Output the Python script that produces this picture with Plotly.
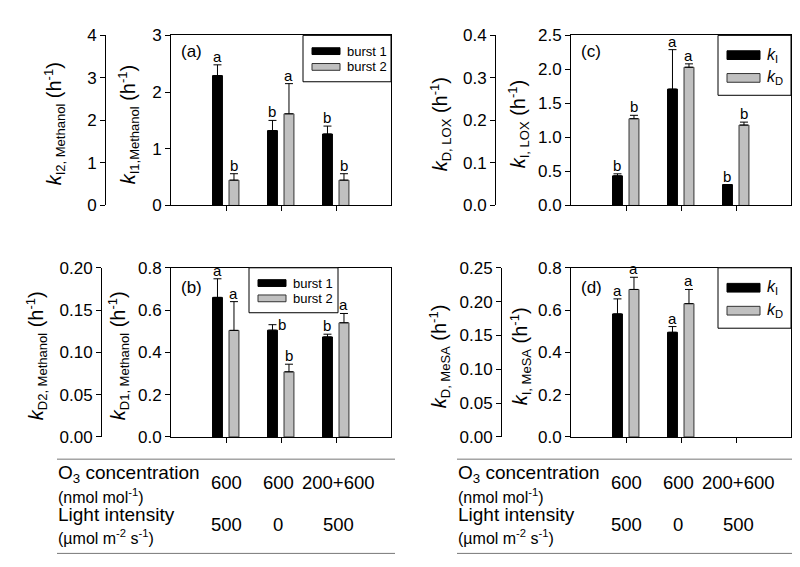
import plotly.graph_objects as go

W, H = 800, 567

# === data ===
cats = [1, 2, 3]
o3_conc = ["600", "600", "200+600"]
light_int = ["500", "0", "500"]

# (a) k_I methanol: burst 1 on k_I1 axis (0-3), burst 2 on k_I2 axis (0-4)
a_burst1 = [2.29, 1.32, 1.26]
a_burst1_err = [0.19, 0.18, 0.14]
a_burst2 = [0.595, 2.155, 0.595]
a_burst2_err = [0.152, 0.71, 0.152]
a_let1 = ["a", "b", "b"]
a_let2 = ["b", "a", "b"]

# (b) k_D methanol: burst 1 on k_D1 axis (0-0.8), burst 2 on k_D2 axis (0-0.2)
b_burst1 = [0.66, 0.505, 0.473]
b_burst1_err = [0.088, 0.026, 0.013]
b_burst2 = [0.126, 0.077, 0.135]
b_burst2_err = [0.034, 0.009, 0.011]
b_let1 = ["a", "b", "b"]
b_let2 = ["a", "b", "a"]

# (c) LOX: k_I on inner axis (0-2.5), k_D on outer axis (0-0.4)
c_kI = [0.435, 1.71, 0.307]
c_kI_err = [0.03, 0.58, 0.0]
c_kD = [0.204, 0.325, 0.189]
c_kD_err = [0.008, 0.008, 0.007]
c_let1 = ["b", "a", "b"]
c_let2 = ["b", "a", "b"]

# (d) MeSA: k_I inner (0-0.8), k_D outer (0-0.25); nothing for 200+600
d_kI = [0.582, 0.495, None]
d_kI_err = [0.071, 0.027, 0]
d_kD = [0.218, 0.197, None]
d_kD_err = [0.018, 0.021, 0]
d_let1 = ["a", "a", ""]
d_let2 = ["a", "a", ""]

FONT = "Liberation Sans, Arial, sans-serif"
GRAY = "#c0c0c0"


def px(x):
    return x / W


def py(y):
    return 1 - y / H


def note(x, y, text, size, xref="paper", yref="paper", xanchor="center", yanchor="middle", **kw):
    d = dict(x=x, y=y, xref=xref, yref=yref, text=text, showarrow=False,
             xanchor=xanchor, yanchor=yanchor, font=dict(size=size))
    d.update(kw)
    return d


def ytitle(sub):
    # k with a fairly large subscript, then (h^-1)
    return ("<i>k</i><sub><span style='font-size:13px'>" + sub + "</span></sub>"
            " (h<sup><span style='font-size:13px'>-1</span></sup>)")


panels = [
    dict(tag="(a)", box=(163, 383, 19, 195), outer=97,
         inner=(3, 1, "d"), outer_ax=(4, 1, "d"),
         s1=(a_burst1, a_burst1_err, a_let1), s2=(a_burst2, a_burst2_err, a_let2),
         t_in=ytitle("I1,Methanol"), t_in_x=121,
         t_out=ytitle("I2, Methanol"), t_out_x=47,
         names=("burst 1", "burst 2"), leg=(295, 383, 19, 67), leg_font=13),
    dict(tag="(b)", box=(163, 383, 259.5, 434.5), outer=93,
         inner=(0.8, 0.2, ".1f"), outer_ax=(0.2, 0.05, ".2f"),
         s1=(b_burst1, b_burst1_err, b_let1), s2=(b_burst2, b_burst2_err, b_let2),
         t_in=ytitle("D1, Methanol"), t_in_x=111,
         t_out=ytitle("D2, Methanol"), t_out_x=29,
         names=("burst 1", "burst 2"), leg=(241, 330, 259.5, 306), leg_font=13),
    dict(tag="(c)", box=(563, 783, 19, 195), outer=487,
         inner=(2.5, 0.5, ".1f"), outer_ax=(0.4, 0.1, ".1f"),
         s1=(c_kI, c_kI_err, c_let1), s2=(c_kD, c_kD_err, c_let2),
         t_in=ytitle("I, LOX"), t_in_x=511,
         t_out=ytitle("D, LOX"), t_out_x=433,
         names=("<i>k</i><sub>I</sub>", "<i>k</i><sub>D</sub>"), leg=(710, 783, 19, 81), leg_font=16),
    dict(tag="(d)", box=(563, 783, 259.5, 434.5), outer=493,
         inner=(0.8, 0.2, ".1f"), outer_ax=(0.25, 0.05, ".2f"),
         s1=(d_kI, d_kI_err, d_let1), s2=(d_kD, d_kD_err, d_let2),
         t_in=ytitle("I, MeSA"), t_in_x=513,
         t_out=ytitle("D, MeSA"), t_out_x=432,
         names=("<i>k</i><sub>I</sub>", "<i>k</i><sub>D</sub>"), leg=(710, 783, 259.5, 322), leg_font=16),
]

# letters that sit beside the cap instead of above it: (panel, series, index) -> xshift
side_letters = {(1, 0, 1): 10}

BAR_W = 0.18
OFFS = (-0.245, 0.055)

fig = go.Figure()
annotations = []
shapes = []
axes = {}

for i, p in enumerate(panels):
    xr = "x" if i == 0 else f"x{i + 1}"
    yin = "y" if i == 0 else f"y{2 * i + 1}"
    yout = f"y{2 * i + 2}"
    x0, x1, y0, y1 = p["box"]

    axes["xaxis" if i == 0 else f"xaxis{i + 1}"] = dict(
        domain=[px(x0), px(x1)], anchor=yin, range=[0, 4], tickvals=cats,
        showticklabels=False, ticks="outside", ticklen=5, tickcolor="black",
        showline=True, mirror=True, linecolor="black", linewidth=1,
        showgrid=False, zeroline=False)

    rng, dt, fmt = p["inner"]
    n = int(round(rng / dt))
    axes["yaxis" if i == 0 else f"yaxis{2 * i + 1}"] = dict(
        domain=[py(y1), py(y0)], anchor=xr, range=[0, rng],
        tickvals=[k * dt for k in range(n + 1)], tickformat=fmt,
        ticks="outside", ticklen=5, tickcolor="black",
        showline=True, mirror=True, linecolor="black", linewidth=1,
        showgrid=False, zeroline=False, tickfont=dict(size=17))

    rng, dt, fmt = p["outer_ax"]
    n = int(round(rng / dt))
    axes[f"yaxis{2 * i + 2}"] = dict(
        overlaying=yin, anchor="free", position=px(p["outer"]), side="left",
        range=[0, rng], tickvals=[k * dt for k in range(n + 1)], tickformat=fmt,
        ticks="outside", ticklen=5, tickcolor="black",
        showline=True, linecolor="black", linewidth=1,
        showgrid=False, zeroline=False, tickfont=dict(size=17))

    for s, (vals, errs, lets) in enumerate((p["s1"], p["s2"])):
        yref = yin if s == 0 else yout
        fig.add_trace(go.Bar(
            x=cats, y=vals, xaxis=xr, yaxis=yref,
            offset=OFFS[s], width=BAR_W,
            marker=dict(color="black" if s == 0 else GRAY,
                        line=dict(color="black" if s == 0 else "#333333", width=1)),
            error_y=dict(type="data", array=errs, arrayminus=[0] * len(errs),
                         symmetric=False, color="black", thickness=1, width=4),
            showlegend=False))
        for k, (v, e, lt) in enumerate(zip(vals, errs, lets)):
            if v is None or not lt:
                continue
            xs = side_letters.get((i, s, k))
            annotations.append(note(cats[k] + OFFS[s] + BAR_W / 2, v + e, lt, 15,
                                    xref=xr, yref=yref,
                                    yanchor="middle" if xs else "bottom",
                                    xshift=xs or 0, yshift=0 if xs else -2))

    # panel tag
    annotations.append(note(px(x0 + 8), py(y0 + (17 if i % 2 == 0 else 20)), p["tag"], 17,
                            xanchor="left"))
    # y titles
    yc = (y0 + y1) / 2 + 4
    for tx, tt in ((p["t_in_x"], p["t_in"]), (p["t_out_x"], p["t_out"])):
        annotations.append(note(px(tx), py(yc), tt, 20, textangle=-90))

    # legend box
    lx0, lx1, ly0, ly1 = p["leg"]
    shapes.append(dict(type="rect", xref="paper", yref="paper",
                       x0=px(lx0), x1=px(lx1), y0=py(ly1), y1=py(ly0),
                       line=dict(color="black", width=1), fillcolor="white", layer="above"))
    lh = ly1 - ly0
    rows = (ly0 + lh * 0.34, ly0 + lh * 0.68) if i < 2 else (ly0 + lh * 0.33, ly0 + lh * 0.71)
    sw = 28 if i < 2 else 33
    hh = 3.5 if i < 2 else 4.5
    for r, (yy, col, name) in enumerate(zip(rows, ("black", GRAY), p["names"])):
        shapes.append(dict(type="rect", xref="paper", yref="paper",
                           x0=px(lx0 + 9), x1=px(lx0 + 9 + sw),
                           y0=py(yy + hh), y1=py(yy - hh),
                           line=dict(color="black" if r == 0 else "#333333", width=1),
                           fillcolor=col, layer="above"))
        annotations.append(note(px(lx0 + 9 + sw + 5), py(yy), name, p["leg_font"],
                                xanchor="left"))

# === bottom table ===
for side, xr in ((0, "x"), (400, "x3")):
    for yl in (457.5, 555):
        shapes.append(dict(type="line", xref="paper", yref="paper",
                           x0=px(side + 49), x1=px(side + 387), y0=py(yl), y1=py(yl),
                           line=dict(color="#777777", width=1)))
    rows = [("O<sub>3</sub> concentration", 473, 19),
            ("(nmol mol<sup>-1</sup>)", 496, 16),
            ("Light intensity", 515, 19),
            ("(\u00b5mol m<sup>-2</sup> s<sup>-1</sup>)", 538, 16)]
    for txt, yy, fs in rows:
        annotations.append(note(px(side + 48), py(yy), txt, fs, xanchor="left"))
    shifts = [0, -3, 2]
    for k in range(3):
        annotations.append(note(cats[k], py(482), o3_conc[k], 18.5, xref=xr, xshift=shifts[k]))
        annotations.append(note(cats[k], py(525), light_int[k], 18.5, xref=xr, xshift=shifts[k]))

fig.update_layout(
    width=W, height=H,
    margin=dict(l=0, r=0, t=0, b=0),
    paper_bgcolor="white", plot_bgcolor="white",
    font=dict(family=FONT, size=16, color="black"),
    barmode="overlay",
    annotations=annotations, shapes=shapes,
    **axes)

fig.write_html("out.html")
